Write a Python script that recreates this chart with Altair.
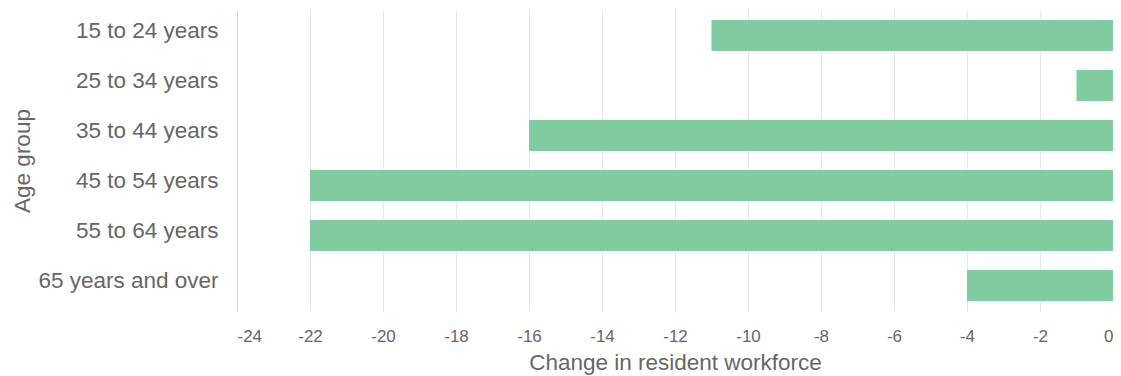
import altair as alt
import pandas as pd

age_groups = ["15 to 24 years", "25 to 34 years", "35 to 44 years",
              "45 to 54 years", "55 to 64 years", "65 years and over"]
changes = [-11, -1, -16, -22, -22, -4]
x_ticks = list(range(-24, 1, 2))

df = pd.DataFrame({"Age group": age_groups, "Change": changes})

font = "Liberation Sans"

chart = alt.Chart(df).mark_bar(color="#80cba0").encode(
    x=alt.X("Change:Q",
            scale=alt.Scale(domain=[-24, 0], nice=False),
            axis=alt.Axis(title="Change in resident workforce", values=x_ticks,
                          labelExpr="'' + datum.value",
                          domain=False, ticks=False, grid=True,
                          gridColor="#e6e6e6", gridWidth=1,
                          labelFont=font, labelFontSize=17, labelColor="#666666",
                          labelPadding=17,
                          titleFont=font, titleFontSize=22.5, titleColor="#666666",
                          titleFontWeight="normal", titlePadding=7)),
    y=alt.Y("Age group:N", sort=age_groups,
            scale=alt.Scale(paddingInner=0.38, paddingOuter=0.2),
            axis=alt.Axis(title="Age group", domain=True, domainColor="#ccd6eb",
                          domainWidth=1, ticks=False, grid=False,
                          labelFont=font, labelFontSize=22.5, labelColor="#666666",
                          labelPadding=19, labelOffset=-5, labelLimit=400,
                          titleFont=font, titleFontSize=22.5, titleColor="#666666",
                          titleFontWeight="normal", titlePadding=3)),
).properties(
    width=876, height=301,
    autosize=alt.AutoSizeParams(type="none"),
    padding={"left": 229, "top": 2, "right": 0, "bottom": 64},
).configure_view(stroke=None)

chart.save("out.html", embed_options={"renderer": "svg", "actions": False})
